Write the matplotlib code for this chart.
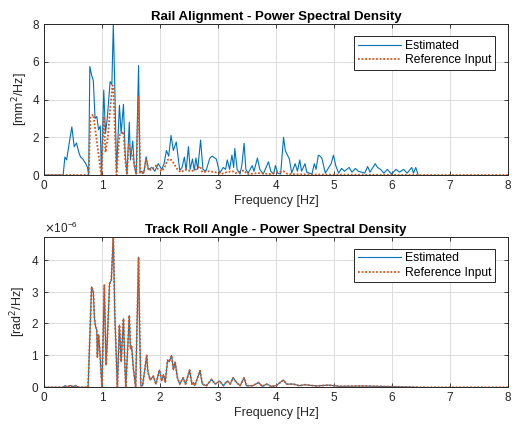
import matplotlib.pyplot as plt
from matplotlib.ticker import ScalarFormatter

plt.rcParams['font.family'] = ['Liberation Sans', 'DejaVu Sans']

# Rail alignment PSD [mm^2/Hz] - estimated
align_est_f = [0.0, 0.33, 0.36, 0.39, 0.44, 0.48, 0.52, 0.56, 0.60, 0.63, 0.67, 0.72, 0.75, 0.77,
               0.79, 0.82, 0.85, 0.88, 0.91, 0.94, 0.97, 0.99, 1.03, 1.06, 1.09, 1.14, 1.17, 1.195,
               1.22, 1.25, 1.30, 1.33, 1.37, 1.40, 1.43, 1.47, 1.49, 1.53, 1.555, 1.59, 1.63, 1.655,
               1.68, 1.72, 1.76, 1.80, 1.86, 1.91, 1.97, 2.03, 2.07, 2.11, 2.15, 2.19, 2.23, 2.28,
               2.31, 2.34, 2.38, 2.42, 2.45, 2.49, 2.52, 2.56, 2.59, 2.62, 2.65, 2.70, 2.74, 2.79,
               2.86, 2.90, 2.97, 3.03, 3.09, 3.13, 3.16, 3.20, 3.24, 3.27, 3.29, 3.33, 3.38, 3.41,
               3.45, 3.48, 3.52, 3.59, 3.62, 3.68, 3.72, 3.78, 3.87, 3.91, 3.96, 3.99, 4.03, 4.08,
               4.13, 4.16, 4.19, 4.23, 4.27, 4.33, 4.37, 4.41, 4.44, 4.50, 4.53, 4.62, 4.66, 4.69,
               4.73, 4.76, 4.79, 4.85, 4.91, 4.95, 4.99, 5.03, 5.08, 5.13, 5.18, 5.26, 5.31, 5.37,
               5.42, 5.53, 5.58, 5.62, 5.71, 5.75, 5.80, 5.86, 5.92, 5.99, 6.07, 6.13, 6.20, 6.26,
               6.34, 6.37, 6.41, 6.45]
align_est = [0.0, 0.0, 0.95, 0.8, 1.8, 2.55, 1.5, 1.7, 1.2, 0.95, 0.85, 0.6, 0.4, 0.0,
             5.75, 5.3, 5.0, 3.0, 3.1, 2.4, 2.6, 0.0, 4.5, 2.2, 3.0, 4.95, 4.8, 8.0,
             4.7, 0.2, 3.7, 2.2, 3.75, 1.1, 0.05, 2.8, 0.8, 1.8, 0.5, 0.05, 5.8, 0.1,
             0.2, 0.1, 0.97, 0.3, 0.4, 0.2, 0.6, 0.3, 0.6, 1.3, 1.0, 2.1, 1.3, 1.75,
             1.0, 0.25, 0.4, 0.95, 0.25, 1.5, 0.3, 0.85, 0.25, 0.9, 0.3, 1.85, 0.3, 0.2,
             0.9, 1.0, 0.85, 0.1, 0.4, 0.3, 0.8, 0.3, 1.06, 0.4, 1.4, 0.3, 0.05, 0.5,
             1.68, 0.3, 0.1, 0.5, 0.2, 0.9, 0.3, 0.05, 0.7, 0.2, 0.05, 0.5, 0.1, 0.05,
             2.0, 1.3, 1.1, 0.85, 0.1, 0.6, 0.2, 0.8, 0.2, 0.6, 0.15, 0.05, 0.6, 0.3,
             1.05, 1.0, 0.9, 0.1, 0.4, 0.6, 1.05, 0.5, 0.1, 0.35, 0.2, 0.4, 0.15, 0.35,
             0.2, 0.1, 0.45, 0.15, 0.6, 0.4, 0.3, 0.1, 0.3, 0.05, 0.3, 0.15, 0.3, 0.1,
             0.4, 0.1, 0.4, 0.0]

# Rail alignment PSD - reference input
align_ref_f = [0.0, 0.77, 0.80, 0.85, 0.88, 0.91, 0.94, 0.97, 0.99, 1.03, 1.06, 1.10, 1.14, 1.18,
               1.195, 1.22, 1.25, 1.30, 1.34, 1.37, 1.40, 1.43, 1.46, 1.50, 1.53, 1.59, 1.63, 1.66,
               1.72, 1.76, 1.80, 1.86, 1.93, 1.97, 2.03, 2.08, 2.13, 2.17, 2.21, 2.26, 2.30, 2.36,
               2.45, 2.52, 2.60, 2.69, 2.73, 2.85, 2.95, 3.05, 3.15, 3.25, 3.30, 3.45, 3.50, 3.70,
               3.90, 4.13, 4.20, 4.50, 5.00, 6.50, 8.00]
align_ref = [0.0, 0.0, 3.1, 3.2, 2.5, 1.8, 1.1, 0.4, 0.0, 3.1, 1.2, 2.0, 3.5, 4.75,
             4.7, 2.5, 0.0, 2.1, 2.2, 2.3, 0.8, 0.0, 1.6, 1.2, 1.0, 0.0, 4.15, 0.1,
             0.1, 0.85, 0.25, 0.3, 0.5, 0.3, 0.2, 0.4, 0.8, 0.85, 0.75, 0.5, 0.3, 0.15,
             0.3, 0.2, 0.25, 0.47, 0.15, 0.2, 0.15, 0.05, 0.15, 0.2, 0.1, 0.25, 0.05, 0.1,
             0.05, 0.2, 0.05, 0.03, 0.02, 0.0, 0.0]

# Track roll angle PSD [1e-6 rad^2/Hz]
roll_f = [0.0, 0.33, 0.36, 0.40, 0.45, 0.50, 0.55, 0.60, 0.76, 0.82, 0.85, 0.87, 0.89, 0.91,
          0.92, 0.94, 0.96, 1.00, 1.04, 1.07, 1.09, 1.13, 1.16, 1.195, 1.22, 1.265, 1.30, 1.33,
          1.37, 1.39, 1.41, 1.47, 1.49, 1.51, 1.54, 1.58, 1.63, 1.65, 1.67, 1.70, 1.77, 1.79,
          1.83, 1.885, 1.93, 1.99, 2.03, 2.06, 2.09, 2.13, 2.16, 2.20, 2.23, 2.26, 2.30, 2.34,
          2.40, 2.44, 2.51, 2.55, 2.58, 2.60, 2.69, 2.73, 2.80, 2.89, 2.95, 3.03, 3.09, 3.16,
          3.21, 3.26, 3.32, 3.38, 3.45, 3.49, 3.60, 3.70, 3.76, 3.84, 3.92, 4.00, 4.13, 4.18,
          4.30, 4.40, 4.50, 4.70, 4.90, 5.10, 5.50, 6.00, 6.45]
roll_est = [0.0, 0.0, 0.05, 0.0, 0.06, 0.02, 0.05, 0.0, 0.0, 3.15, 3.0, 2.15, 1.9, 1.8,
            0.95, 1.65, 1.2, 0.0, 3.2, 0.7, 1.4, 3.25, 3.35, 4.75, 2.3, 0.0, 1.95, 0.8,
            2.15, 0.9, 0.0, 2.25, 1.2, 1.3, 0.6, 0.0, 4.08, 1.7, 0.05, 0.05, 1.0, 0.5,
            0.23, 0.35, 0.1, 0.54, 0.2, 0.4, 0.15, 0.85, 0.8, 1.0, 0.55, 0.8, 0.3, 0.1,
            0.3, 0.1, 0.54, 0.1, 0.15, 0.05, 0.52, 0.1, 0.05, 0.25, 0.1, 0.2, 0.05, 0.2,
            0.1, 0.3, 0.15, 0.05, 0.3, 0.05, 0.05, 0.15, 0.03, 0.1, 0.03, 0.05, 0.23, 0.1,
            0.1, 0.05, 0.08, 0.04, 0.07, 0.03, 0.04, 0.02, 0.0]
roll_ref_f = roll_f + [8.0]
roll_ref = roll_est + [0.0]

blue = '#0072BD'
orange = '#D95319'

fig = plt.figure(figsize=(5.16, 4.3), dpi=100)
ax1 = fig.add_axes([0.0853, 0.593, 0.8992, 0.351])
ax2 = fig.add_axes([0.0853, 0.0993, 0.8992, 0.3502])


def style(ax):
    ax.set_xlim(0, 8)
    ax.set_xticks(range(0, 9))
    ax.grid(True, color='#dcdcdc', linewidth=0.7)
    ax.set_axisbelow(True)
    ax.tick_params(direction='in', top=True, right=True, labelsize=8.5,
                   colors='#262626', length=3, width=0.6)
    for s in ax.spines.values():
        s.set_color('#262626')
        s.set_linewidth(0.7)
    ax.set_xlabel('Frequency [Hz]', fontsize=9, color='#262626', labelpad=2)
    leg = ax.legend(['Estimated', 'Reference Input'], loc='upper right', fontsize=8.7,
                    fancybox=False, framealpha=1, edgecolor='#262626',
                    borderpad=0.3, handlelength=3.6, handletextpad=0.3,
                    labelspacing=0.2, bbox_to_anchor=(0.985, 0.96))
    leg.get_frame().set_linewidth(0.7)


ax1.plot(align_est_f, align_est, color=blue, linewidth=0.8)
ax1.plot(align_ref_f, align_ref, color=orange, linewidth=1.3, linestyle=(0, (1, 1)))
ax1.set_ylim(0, 8)
ax1.set_yticks([0, 2, 4, 6, 8])
ax1.set_ylabel('[mm$^2$/Hz]', fontsize=9, color='#262626', labelpad=2)
ax1.set_title('Rail Alignment - Power Spectral Density', fontsize=9.5,
              fontweight='bold', pad=3)
style(ax1)

ax2.plot(roll_f, [v * 1e-6 for v in roll_est], color=blue, linewidth=0.8)
ax2.plot(roll_ref_f, [v * 1e-6 for v in roll_ref], color=orange, linewidth=1.3,
         linestyle=(0, (1, 1)))
ax2.set_ylim(0, 4.72e-6)
ax2.set_yticks([0, 1e-6, 2e-6, 3e-6, 4e-6])
fmt = ScalarFormatter(useMathText=True)
fmt.set_powerlimits((0, 0))
ax2.yaxis.set_major_formatter(fmt)
ax2.yaxis.get_offset_text().set_fontsize(8.5)
ax2.set_ylabel('[rad$^2$/Hz]', fontsize=9, color='#262626', labelpad=2)
ax2.set_title('Track Roll Angle - Power Spectral Density', fontsize=9.5,
              fontweight='bold', pad=3)
style(ax2)

fig.savefig('out.png', dpi=100)
